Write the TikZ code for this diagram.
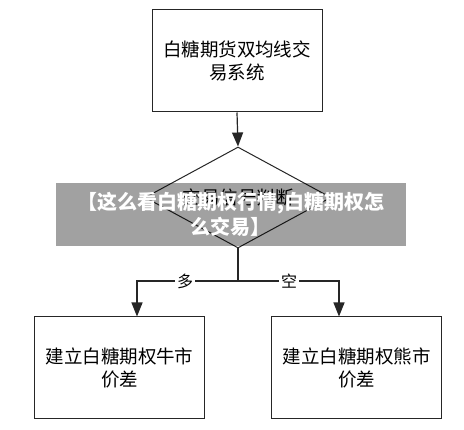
\documentclass[tikz,border=0pt]{standalone}
\usepackage{fontspec}
\setmainfont{Noto Sans CJK SC}
\usetikzlibrary{shapes.geometric,arrows.meta}
\begin{document}
\begin{tikzpicture}[x=1pt,y=-1pt,
  box/.style={draw=black!85,line width=1pt,minimum width=170pt,minimum height=102pt,inner sep=0pt,align=center,
    font=\fontsize{18.5}{23.5}\selectfont},
  conn/.style={draw=black!85,line width=1.2pt,-{Triangle[length=14pt,width=11pt]}},
  lbl/.style={fill=white,inner sep=2pt,font=\fontsize{16}{18}\selectfont}]
\useasboundingbox[fill=white] (0,0) rectangle (464,430);
\node[box] (top) at (237,61) {白糖期货双均线交\\易系统};
\node[diamond,draw=black!85,line width=1pt,minimum width=186pt,minimum height=101pt,inner sep=0pt] (d) at (238,197.5) {};
\node[font=\fontsize{18.5}{22}\selectfont] (dt) at (d) {交易信号判断};
\node[box] (left) at (119.5,368) {建立白糖期权牛市\\价差};
\node[box] (right) at (356.5,368) {建立白糖期权熊市\\价差};
\coordinate (j) at (238,281);
\coordinate (la) at (137,281);
\coordinate (ra) at (339,281);
\draw[conn] (top.south) -- (d.north);
\draw[draw=black!85,line width=1.2pt] (d.south) -- (j);
\draw[conn] (j) -- (la) -- (la |- left.north);
\draw[conn] (j) -- (ra) -- (ra |- right.north);
\node[lbl] (duo) at (185,281) {多};
\node[lbl] (kong) at (289,281) {空};
\node[fill=black,fill opacity=0.37,text opacity=1,text=white,minimum width=350pt,minimum height=63pt,inner sep=0pt,
  align=center,font=\bfseries\fontsize{20}{25}\selectfont] (banner) at (231,214.5) {【这么看白糖期权行情,白糖期权怎\\么交易】};
\end{tikzpicture}
\end{document}
